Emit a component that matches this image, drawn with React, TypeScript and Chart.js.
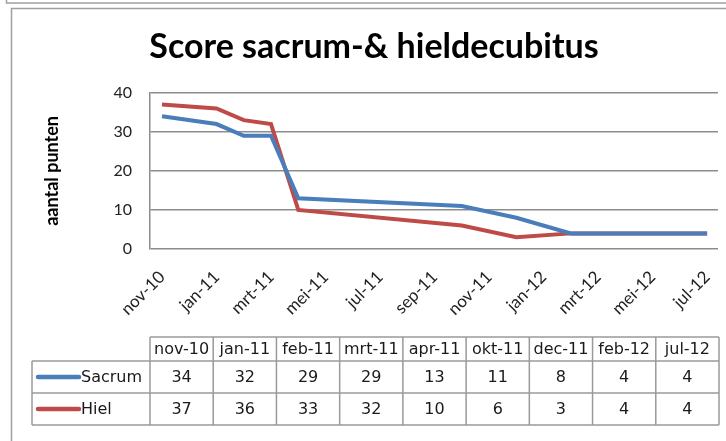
import React, { useEffect, useRef } from 'react';
import { Chart, registerables } from 'chart.js';

Chart.register(...registerables);

// ---- data ----
const tableLabels = ['nov-10', 'jan-11', 'feb-11', 'mrt-11', 'apr-11', 'okt-11', 'dec-11', 'feb-12', 'jul-12'];
// month offset from nov-10 for each measurement
const monthIndex = [0, 2, 3, 4, 5, 11, 13, 15, 20];
const sacrum = [34, 32, 29, 29, 13, 11, 8, 4, 4];
const hiel = [37, 36, 33, 32, 10, 6, 3, 4, 4];
const axisTickMonths = [0, 2, 4, 6, 8, 10, 12, 14, 16, 18, 20];
const axisTickLabels = ['nov-10', 'jan-11', 'mrt-11', 'mei-11', 'jul-11', 'sep-11', 'nov-11', 'jan-12', 'mrt-12', 'mei-12', 'jul-12'];
const yTickValues = [0, 10, 20, 30, 40];

const BLUE = '#4A7EBB';
const RED = '#BE4B48';
const seriesNames = ['Sacrum', 'Hiel'];

const framePlugin = {
  id: 'frame',
  beforeDraw(chart: any) {
    const ctx = chart.ctx;
    ctx.save();
    ctx.fillStyle = '#ffffff';
    ctx.fillRect(0, 0, chart.width, chart.height);
    ctx.strokeStyle = '#a0a0a0';
    ctx.lineWidth = 1.5;
    ctx.beginPath();
    ctx.moveTo(6.5, 0);
    ctx.lineTo(6.5, 3);
    ctx.lineTo(chart.width, 3);
    ctx.stroke();
    ctx.beginPath();
    ctx.moveTo(11.5, chart.height);
    ctx.lineTo(11.5, 8.5);
    ctx.lineTo(chart.width, 8.5);
    ctx.stroke();
    ctx.restore();
  },
};

const tablePlugin = {
  id: 'dataTable',
  afterDraw(chart: any) {
    const ctx = chart.ctx;
    const area = chart.chartArea;
    const colStart = area.left;
    const colW = (area.right + 1 - area.left) / tableLabels.length;
    const tableLeft = 32;
    const yHead = 337;
    const yRow1 = 361;
    const yRow2 = 393;
    const yEnd = 425;
    const right = colStart + colW * tableLabels.length;
    ctx.save();
    ctx.strokeStyle = '#9a9a9a';
    ctx.lineWidth = 1.5;
    ctx.beginPath();
    ctx.moveTo(colStart, yHead); ctx.lineTo(right, yHead);
    ctx.moveTo(tableLeft, yRow1); ctx.lineTo(right, yRow1);
    ctx.moveTo(tableLeft, yRow2); ctx.lineTo(right, yRow2);
    ctx.moveTo(tableLeft, yEnd); ctx.lineTo(right, yEnd);
    ctx.moveTo(tableLeft, yRow1); ctx.lineTo(tableLeft, yEnd);
    for (let i = 0; i <= tableLabels.length; i++) {
      const x = colStart + colW * i;
      ctx.moveTo(x, yHead); ctx.lineTo(x, yEnd);
    }
    ctx.stroke();

    ctx.fillStyle = '#1a1a1a';
    ctx.font = '16px "DejaVu Sans"';
    ctx.textBaseline = 'middle';
    ctx.textAlign = 'center';
    const rows = [sacrum, hiel];
    const rowMid = [(yRow1 + yRow2) / 2, (yRow2 + yEnd) / 2];
    tableLabels.forEach((lab, i) => {
      const cx = colStart + colW * (i + 0.5);
      ctx.fillText(lab, cx, (yHead + yRow1) / 2 + 1);
      rows.forEach((r, j) => ctx.fillText(String(r[i]), cx, rowMid[j] + 1));
    });
    const colors = [BLUE, RED];
    ctx.textAlign = 'left';
    seriesNames.forEach((name, j) => {
      ctx.strokeStyle = colors[j];
      ctx.lineWidth = 4.5;
      ctx.lineCap = 'round';
      ctx.beginPath();
      ctx.moveTo(38, rowMid[j]);
      ctx.lineTo(79, rowMid[j]);
      ctx.stroke();
      ctx.fillStyle = '#1a1a1a';
      ctx.fillText(name, 81, rowMid[j] + 1);
    });
    ctx.restore();
  },
};

export default function App() {
  const canvasRef = useRef<HTMLCanvasElement | null>(null);

  useEffect(() => {
    const canvas = canvasRef.current;
    if (!canvas) return;
    const chart = new Chart(canvas, {
      type: 'line',
      data: {
        datasets: [
          {
            label: seriesNames[0],
            data: monthIndex.map((m, i) => ({ x: m, y: sacrum[i] })),
            borderColor: BLUE,
            backgroundColor: BLUE,
            borderWidth: 4,
            pointRadius: 0,
            tension: 0,
          },
          {
            label: seriesNames[1],
            data: monthIndex.map((m, i) => ({ x: m, y: hiel[i] })),
            borderColor: RED,
            backgroundColor: RED,
            borderWidth: 4,
            pointRadius: 0,
            tension: 0,
          },
        ],
      },
      plugins: [framePlugin, tablePlugin],
      options: {
        responsive: false,
        animation: false,
        devicePixelRatio: 1,
        layout: { padding: { left: 30, right: 8, top: 0, bottom: 112 } },
        plugins: {
          legend: { display: false },
          tooltip: { enabled: false },
          title: {
            display: true,
            text: 'Score sacrum-& hieldecubitus',
            color: '#000',
            font: { family: 'Lato', size: 34, weight: 'bold' },
            padding: { top: 27, bottom: 25 },
          },
        },
        scales: {
          x: {
            type: 'linear',
            min: -0.44,
            max: 20.4,
            afterBuildTicks: (scale: any) => {
              scale.ticks = axisTickMonths.map((v) => ({ value: v }));
            },
            afterFit: (scale: any) => {
              scale.height = 80;
              scale.paddingLeft = 0;
              scale.paddingRight = 0;
            },
            grid: { display: false, drawTicks: false },
            border: { display: false },
            ticks: {
              autoSkip: false,
              minRotation: 45,
              maxRotation: 45,
              padding: 18,
              color: '#222',
              font: { family: 'Lato', size: 17 },
              callback: (v: any) => {
                const idx = axisTickMonths.indexOf(Number(v));
                return idx >= 0 ? axisTickLabels[idx] : '';
              },
            },
          },
          y: {
            min: 0,
            max: 40,
            afterBuildTicks: (scale: any) => {
              scale.ticks = yTickValues.map((v) => ({ value: v }));
            },
            afterFit: (scale: any) => {
              scale.width = 120;
              scale.paddingTop = 0;
              scale.paddingBottom = 0;
            },
            grid: { color: '#8c8c8c', lineWidth: 1.5, drawTicks: false },
            border: { display: true, color: '#8c8c8c', width: 1.5 },
            ticks: {
              padding: 18,
              color: '#222',
              font: { family: 'Lato', size: 16 },
            },
            title: {
              display: true,
              text: 'aantal punten',
              color: '#000',
              font: { family: 'Lato', size: 18, weight: 'bold' },
              padding: { top: 11, bottom: 0 },
            },
          },
        },
      },
    } as any);
    return () => chart.destroy();
  }, []);

  return (
    <div style={{ position: 'absolute', left: 0, top: 0, width: 726, height: 441, background: '#fff' }}>
      <canvas ref={canvasRef} width={726} height={441} style={{ display: 'block', width: 726, height: 441 }} />
    </div>
  );
}
